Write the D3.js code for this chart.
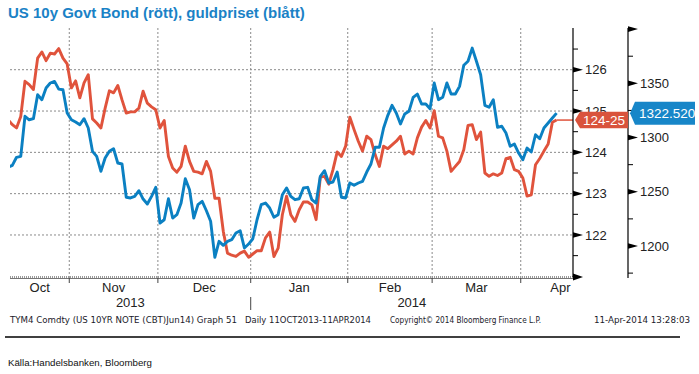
<!DOCTYPE html>
<html>
<head>
<meta charset="utf-8">
<script src="https://cdn.jsdelivr.net/npm/d3@7"></script>
<style>
body { margin: 0; background: #fff; }
svg { display: block; }
</style>
</head>
<body>
<script>

// US 10y note future (TYM4), daily closes 11 Oct 2013 - 11 Apr 2014, in points
const bondValues = [
    124.79, 124.67, 124.59, 124.87, 125.72, 125.64, 125.52, 126.28, 126.43, 126.22,
    126.40, 126.38, 126.51, 126.28, 126.14, 125.56, 125.73, 125.32, 125.68, 125.88,
    124.81, 124.71, 124.59, 125.07, 125.49, 125.44, 125.62, 125.27, 124.95, 124.98,
    124.98, 125.07, 125.48, 125.19, 125.10, 125.03, 124.59, 124.77, 123.90, 123.62,
    123.52, 123.66, 124.15, 123.78, 123.54, 123.52, 123.48, 123.78, 123.54, 122.89,
    122.89, 122.09, 121.56, 121.51, 121.48, 121.56, 121.61, 121.46, 121.54, 121.62,
    121.62, 121.93, 122.07, 121.48, 121.68, 122.49, 122.94, 122.49, 122.33, 122.61,
    122.80, 122.80, 122.73, 122.37, 123.40, 123.42, 123.23, 123.58, 124.01, 123.90,
    124.15, 124.85, 124.55, 124.27, 124.03, 124.39, 124.31, 123.94, 123.66, 124.15,
    124.09, 124.18, 124.27, 124.39, 123.96, 124.03, 123.96, 124.35, 124.61, 124.77,
    124.59, 125.01, 124.39, 124.35, 124.03, 123.54, 123.66, 123.78, 124.06, 124.65,
    124.67, 124.31, 124.49, 123.50, 123.42, 123.48, 123.44, 123.50, 123.85, 123.88,
    123.58, 123.54, 123.38, 122.94, 122.97, 123.70, 123.85, 124.03, 124.20, 124.73,
    124.78125
]

// gold, USD/oz, same days
const goldValues = [
    1272.6, 1274.4, 1281.8, 1282.7, 1319.6, 1316.4, 1317.4, 1339.5, 1334.9, 1345.7,
    1350.3, 1351.8, 1344.7, 1344.1, 1322.6, 1316.4, 1314.3, 1311.8, 1317.4, 1308.8,
    1287.3, 1282.7, 1268.9, 1281.1, 1287.3, 1289.7, 1276.5, 1275.6, 1244.9, 1244.3,
    1245.8, 1251.0, 1243.3, 1238.7, 1245.8, 1254.1, 1221.2, 1224.2, 1243.6, 1225.8,
    1228.9, 1239.6, 1262.0, 1251.9, 1225.8, 1238.1, 1241.2, 1232.5, 1222.8, 1189.6,
    1204.3, 1200.6, 1204.3, 1205.8, 1212.0, 1214.1, 1198.2, 1201.8, 1206.7, 1224.2,
    1238.1, 1239.6, 1235.0, 1226.5, 1228.9, 1247.3, 1253.5, 1245.8, 1242.7, 1243.6,
    1253.5, 1254.1, 1242.7, 1239.6, 1264.3, 1269.4, 1258.1, 1259.0, 1268.2, 1244.9,
    1244.3, 1258.1, 1256.0, 1258.1, 1259.6, 1268.2, 1275.6, 1291.0, 1291.0, 1308.8,
    1320.5, 1329.7, 1322.6, 1312.5, 1321.7, 1324.2, 1337.1, 1340.1, 1330.9, 1330.9,
    1326.6, 1350.3, 1334.9, 1337.1, 1350.3, 1340.1, 1340.1, 1347.2, 1366.6, 1370.3,
    1382.5, 1370.3, 1357.9, 1329.7, 1327.9, 1334.9, 1309.4, 1310.4, 1304.2, 1291.9,
    1294.0, 1285.7, 1279.6, 1290.3, 1286.7, 1302.6, 1298.9, 1308.8, 1313.4, 1318.0,
    1322.52
]

const monthLabels = ['Oct', 'Nov', 'Dec', 'Jan', 'Feb', 'Mar', 'Apr']
const yearLabels = ['2013', '2014']
const bondTicks = [122, 123, 124, 125, 126]
const bondMinorTicks = [121.5, 122.5, 123.5, 124.5, 125.5, 126.5]
const goldTicks = [1200, 1250, 1300, 1350]
const goldArrowTicks = [1200, 1250, 1300, 1350, 1400]
const goldMinorTicks = [1175, 1225, 1275, 1325, 1375]
const bondLastLabel = '124-25'
const goldLastLabel = '1322.520'

const titleText = 'US 10y Govt Bond (rött), guldpriset (blått)'
const footerTexts = [
    {text: 'TYM4 Comdty (US 10YR NOTE (CBT)Jun14) Graph 51', x: 10, w: 227},
    {text: 'Daily 11OCT2013-11APR2014', x: 245, w: 126},
    {text: 'Copyright\u00a9 2014 Bloomberg Finance L.P.', x: 390, w: 151},
    {text: '11-Apr-2014 13:28:03', x: 594, w: 96}
]
const sourceText = 'Källa:Handelsbanken, Bloomberg'

const redColor = '#e0533c'
const blueColor = '#0b80c2'
const font = "'Liberation Sans', Arial, sans-serif"

// trading days (weekdays) of the period
const dates = d3.timeDay.range(new Date(2013, 9, 11), new Date(2014, 3, 12))
    .filter(d => d.getDay() % 6 !== 0)

const plot = {left: 10, right: 573, top: 28, bottom: 278}
const goldAxisX = 628

const x = d3.scaleLinear().domain([0, dates.length - 1]).range([8.1, 556.6])
const yBond = d3.scaleLinear().domain([121, 127]).range([276.3, 28.4])
const yGold = d3.scaleLinear().domain([1200, 1400]).range([246, 29.1])

const svg = d3.select('body').append('svg')
    .attr('width', 699)
    .attr('height', 374)
    .style('font-family', font)

// title
svg.append('text')
    .attr('x', 8)
    .attr('y', 18)
    .text(titleText)
    .style('font-size', '15px')
    .style('font-weight', 'bold')
    .attr('fill', '#1a82c6')

// month boundaries (between the last day of a month and the first of the next)
const monthStarts = dates.map((d, i) => i)
    .filter(i => i > 0 && dates[i].getMonth() !== dates[i - 1].getMonth())
const boundaryX = monthStarts.map(i => x(i - 0.5))

// grid
const grid = svg.append('g')
grid.selectAll('line.h')
    .data(bondTicks)
    .join('line')
    .attr('class', 'h')
    .attr('x1', plot.left).attr('x2', plot.right)
    .attr('y1', d => yBond(d)).attr('y2', d => yBond(d))
    .attr('stroke', '#8a8a8a')
    .attr('stroke-dasharray', '2,2')

grid.selectAll('line.v')
    .data(boundaryX)
    .join('line')
    .attr('class', 'v')
    .attr('x1', d => d).attr('x2', d => d)
    .attr('y1', plot.top).attr('y2', plot.bottom)
    .attr('stroke', '#8a8a8a')
    .attr('stroke-dasharray', '2,2')

// bottom axis
svg.append('line')
    .attr('x1', plot.left).attr('x2', plot.right)
    .attr('y1', 277).attr('y2', 277)
    .attr('stroke', '#999')
    .attr('stroke-width', 2)
    .attr('stroke-dasharray', '1,1')
svg.append('line')
    .attr('x1', plot.left).attr('x2', plot.right)
    .attr('y1', 278.5).attr('y2', 278.5)
    .attr('stroke', '#777')
    .attr('stroke-width', 1)
svg.selectAll('line.mtick')
    .data(boundaryX)
    .join('line')
    .attr('class', 'mtick')
    .attr('x1', d => d).attr('x2', d => d)
    .attr('y1', 278).attr('y2', 283)
    .attr('stroke', '#444')
svg.append('path')
    .attr('d', `M${plot.right},273.5 L${plot.right + 10},277 L${plot.right},280.5 Z`)
    .attr('fill', '#000')

// month and year labels
const segEdges = [plot.left, ...boundaryX, 600]
svg.selectAll('text.month')
    .data(monthLabels)
    .join('text')
    .attr('class', 'month')
    .attr('x', (d, i) => (segEdges[i] + segEdges[i + 1]) / 2)
    .attr('y', 291.5)
    .attr('text-anchor', 'middle')
    .style('font-size', '13px')
    .attr('fill', '#222')
    .text(d => d)

const yearEdge = boundaryX[2]
const yearCenters = [(plot.left + yearEdge) / 2, (yearEdge + plot.right) / 2]
svg.selectAll('text.year')
    .data(yearLabels)
    .join('text')
    .attr('class', 'year')
    .attr('x', (d, i) => yearCenters[i])
    .attr('y', 307)
    .attr('text-anchor', 'middle')
    .style('font-size', '13px')
    .attr('fill', '#222')
    .text(d => d)
svg.append('line')
    .attr('x1', yearEdge).attr('x2', yearEdge)
    .attr('y1', 297).attr('y2', 310)
    .attr('stroke', '#444')

// lines
svg.append('clipPath').attr('id', 'plotClip')
    .append('rect')
    .attr('x', plot.left).attr('y', plot.top)
    .attr('width', plot.right - plot.left).attr('height', plot.bottom - plot.top)

const lines = svg.append('g').attr('clip-path', 'url(#plotClip)')

const bondLine = d3.line().x((d, i) => x(i)).y(d => yBond(d))
const goldLine = d3.line().x((d, i) => x(i)).y(d => yGold(d))

const lastBond = bondValues[bondValues.length - 1]
const lastGold = goldValues[goldValues.length - 1]

lines.append('line')
    .attr('x1', x(bondValues.length - 1)).attr('x2', plot.right)
    .attr('y1', yBond(lastBond)).attr('y2', yBond(lastBond))
    .attr('stroke', redColor)
    .attr('stroke-width', 1.5)

lines.append('path')
    .datum(bondValues)
    .attr('d', bondLine)
    .attr('fill', 'none')
    .attr('stroke', redColor)
    .attr('stroke-width', 2.9)
    .attr('stroke-linejoin', 'round')

lines.append('path')
    .datum(goldValues)
    .attr('d', goldLine)
    .attr('fill', 'none')
    .attr('stroke', blueColor)
    .attr('stroke-width', 2.9)
    .attr('stroke-linejoin', 'round')

// axes on the right
function drawAxis (axisX, scale, arrowTicks, minorTicks, labelTicks, top, bottom){
    const g = svg.append('g')
    g.append('line')
        .attr('x1', axisX).attr('x2', axisX)
        .attr('y1', top).attr('y2', bottom)
        .attr('stroke', '#000')
        .attr('stroke-width', 1.2)
    g.selectAll('path.arrow')
        .data(arrowTicks)
        .join('path')
        .attr('class', 'arrow')
        .attr('d', d => `M${axisX},${scale(d) - 2.8} L${axisX + 10},${scale(d)} L${axisX},${scale(d) + 2.8} Z`)
        .attr('fill', '#000')
    g.selectAll('line.minor')
        .data(minorTicks)
        .join('line')
        .attr('class', 'minor')
        .attr('x1', axisX).attr('x2', axisX + 5)
        .attr('y1', d => scale(d)).attr('y2', d => scale(d))
        .attr('stroke', '#000')
    g.selectAll('text')
        .data(labelTicks)
        .join('text')
        .attr('x', axisX + 12)
        .attr('y', d => scale(d))
        .attr('dy', '0.36em')
        .style('font-size', '13px')
        .attr('fill', '#222')
        .text(d => d)
}

drawAxis(plot.right, yBond, bondTicks, bondMinorTicks, bondTicks, plot.top, 277)
drawAxis(goldAxisX, yGold, goldArrowTicks, goldMinorTicks, goldTicks, plot.top, plot.bottom)

// last value tags (the bond tag sits over the 125 label, as in Bloomberg)
function lastTag (tipX, boxRight, yMid, h, fill, label, textX){
    const g = svg.append('g')
    g.append('path')
        .attr('d', `M${tipX},${yMid} L${tipX + 5},${yMid - h / 2} L${boxRight},${yMid - h / 2} L${boxRight},${yMid + h / 2} L${tipX + 5},${yMid + h / 2} Z`)
        .attr('fill', fill)
    g.append('text')
        .attr('x', textX)
        .attr('y', yMid)
        .attr('dy', '0.36em')
        .style('font-size', '13.5px')
        .attr('fill', '#fff')
        .text(label)
}

lastTag(plot.right + 2, goldAxisX, yBond(lastBond), 16.5, '#d9533c', bondLastLabel, 583)
lastTag(goldAxisX + 2, 695, yGold(lastGold), 23, '#1786c8', goldLastLabel, 639)

// footer
svg.selectAll('text.footer')
    .data(footerTexts)
    .join('text')
    .attr('class', 'footer')
    .attr('x', d => d.x)
    .attr('y', 323)
    .attr('textLength', d => d.w)
    .attr('lengthAdjust', 'spacingAndGlyphs')
    .style('font-family', "'DejaVu Sans', sans-serif")
    .style('font-size', '8.5px')
    .attr('fill', '#1a1a2a')
    .text(d => d.text)

svg.append('line')
    .attr('x1', 5).attr('x2', 680)
    .attr('y1', 337).attr('y2', 337)
    .attr('stroke', '#000')
    .attr('stroke-width', 1.3)

svg.append('text')
    .attr('x', 8)
    .attr('y', 366)
    .attr('textLength', 144)
    .attr('lengthAdjust', 'spacingAndGlyphs')
    .style('font-size', '9.5px')
    .attr('fill', '#111')
    .text(sourceText)

</script>
</body>
</html>
